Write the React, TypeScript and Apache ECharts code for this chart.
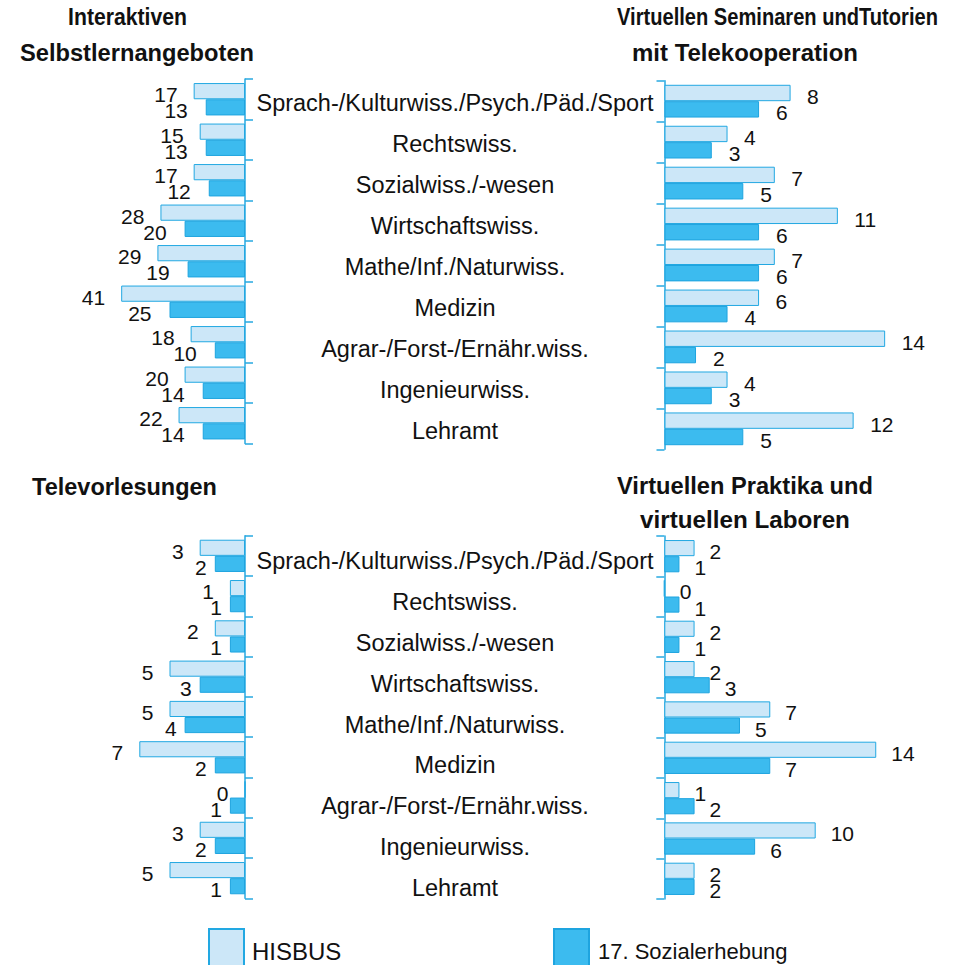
import React, { useEffect, useRef } from "react";
import * as echarts from "echarts";

const categories = [
  "Sprach-/Kulturwiss./Psych./Päd./Sport",
  "Rechtswiss.",
  "Sozialwiss./-wesen",
  "Wirtschaftswiss.",
  "Mathe/Inf./Naturwiss.",
  "Medizin",
  "Agrar-/Forst-/Ernähr.wiss.",
  "Ingenieurwiss.",
  "Lehramt",
];

const seriesNames = ["HISBUS", "17. Sozialerhebung"];

// Interaktiven Selbstlernangeboten
const selbstHisbus = [17, 15, 17, 28, 29, 41, 18, 20, 22];
const selbstSozial = [13, 13, 12, 20, 19, 25, 10, 14, 14];
// Virtuellen Seminaren und Tutorien mit Telekooperation
const seminarHisbus = [8, 4, 7, 11, 7, 6, 14, 4, 12];
const seminarSozial = [6, 3, 5, 6, 6, 4, 2, 3, 5];
// Televorlesungen
const teleHisbus = [3, 1, 2, 5, 5, 7, 0, 3, 5];
const teleSozial = [2, 1, 1, 3, 4, 2, 1, 2, 1];
// Virtuellen Praktika und virtuellen Laboren
const praktikaHisbus = [2, 0, 2, 2, 7, 14, 1, 10, 2];
const praktikaSozial = [1, 1, 1, 3, 5, 7, 2, 6, 2];

const panelTitles = [
  ["Interaktiven", "Selbstlernangeboten"],
  ["Virtuellen Seminaren undTutorien", "mit Telekooperation"],
  ["Televorlesungen"],
  ["Virtuellen Praktika und", "virtuellen Laboren"],
];

const FONT = '"Liberation Sans", Arial, Helvetica, sans-serif';
const LIGHT = "#cce7f8";
const LIGHT_BORDER = "#22a8e2";
const DARK = "#3cbbef";
const DARK_BORDER = "#1ea4df";
const AXIS = "#27a9e1";

// layout for title lines: [panel, line, centerX, centerY, targetWidth]
const titleLayout: [number, number, number, number, number][] = [
  [0, 0, 127.5, 17, 119],
  [0, 1, 137, 52, 234],
  [1, 0, 777.5, 17, 321],
  [1, 1, 745, 52, 226],
  [2, 0, 124.5, 487, 185],
  [3, 0, 745, 485, 256],
  [3, 1, 745, 520, 210],
];

function measure(text: string, font: string): number {
  const c = document.createElement("canvas");
  const ctx = c.getContext("2d");
  if (!ctx) return text.length * 12;
  ctx.font = font;
  return ctx.measureText(text).width;
}

export default function App() {
  const ref = useRef<HTMLDivElement>(null);

  useEffect(() => {
    if (!ref.current) return;
    const chart = echarts.init(ref.current, undefined, { renderer: "svg" });

    const titleFontSize = 24;
    const titleFont = `bold ${titleFontSize}px "Liberation Sans", Arial, sans-serif`;
    const graphics = titleLayout.map(([p, l, cx, cy, tw]) => {
      const text = panelTitles[p][l];
      const w = measure(text, titleFont);
      return {
        type: "text",
        x: cx,
        y: cy,
        scaleX: tw / w,
        style: {
          text,
          fill: "#111",
          font: titleFont,
          textAlign: "center",
          textVerticalAlign: "middle",
          align: "center",
          verticalAlign: "middle",
        },
      };
    });

    const panelGrids = [
      { left: 3.4, width: 241.6, top: 79, height: 364.5 },
      { left: 664.5, width: 283.7, top: 80.7, height: 368.6 },
      { left: 3.4, width: 241.6, top: 535.7, height: 362.6 },
      { left: 664.3, width: 272.5, top: 536, height: 363 },
    ];
    const labelGrids = [
      { left: 455, width: 1, top: 82, height: 369.9 },
      { left: 455, width: 1, top: 540.5, height: 368.1 },
    ];
    const maxes = [80, 18, 16, 18];
    const isLeft = [true, false, true, false];

    const xAxis: any[] = [];
    const yAxis: any[] = [];
    for (let i = 0; i < 4; i++) {
      xAxis.push({
        type: "value",
        gridIndex: i,
        min: 0,
        max: maxes[i],
        inverse: isLeft[i],
        show: false,
      });
      yAxis.push({
        type: "category",
        gridIndex: i,
        data: categories,
        inverse: true,
        position: isLeft[i] ? "right" : "left",
        axisLine: { show: true, lineStyle: { color: AXIS, width: 1.5 } },
        axisTick: { show: true, length: 8, lineStyle: { color: AXIS, width: 1.5 } },
        axisLabel: { show: false },
        splitLine: { show: false },
      });
    }
    for (let j = 0; j < 2; j++) {
      xAxis.push({ type: "value", gridIndex: 4 + j, min: 0, max: 1, show: false });
      yAxis.push({
        type: "category",
        gridIndex: 4 + j,
        data: categories,
        inverse: true,
        position: "left",
        axisLine: { show: false },
        axisTick: { show: false },
        splitLine: { show: false },
        axisLabel: {
          show: true,
          interval: 0,
          align: "center",
          margin: 0,
          fontSize: 23.5,
          color: "#111",
          fontFamily: FONT,
        },
      });
    }

    const panelData = [
      [selbstHisbus, selbstSozial],
      [seminarHisbus, seminarSozial],
      [teleHisbus, teleSozial],
      [praktikaHisbus, praktikaSozial],
    ];
    const labelDist = [
      [16, 18],
      [16.5, 17],
      [16, 8],
      [15, 15],
    ];

    const series: any[] = [];
    for (let i = 0; i < 4; i++) {
      for (let s = 0; s < 2; s++) {
        series.push({
          type: "bar",
          name: seriesNames[s],
          xAxisIndex: i,
          yAxisIndex: i,
          data: panelData[i][s],
          barGap: "0%",
          barCategoryGap: "20%",
          itemStyle: {
            color: s === 0 ? LIGHT : DARK,
            borderColor: s === 0 ? LIGHT_BORDER : DARK_BORDER,
            borderWidth: 1,
          },
          label: {
            show: true,
            position: isLeft[i] ? "left" : "right",
            distance: labelDist[i][s],
            offset: [0, 3.5],
            fontSize: 21,
            color: "#111",
            fontFamily: FONT,
          },
          emphasis: { disabled: true },
        });
      }
    }

    const legendCommon = {
      orient: "horizontal",
      icon: "rect",
      itemWidth: 35,
      itemHeight: 45,
      top: 928,
      padding: 0,
      selectedMode: false,
    };

    chart.setOption({
      animation: false,
      backgroundColor: "#ffffff",
      grid: [...panelGrids, ...labelGrids],
      xAxis,
      yAxis,
      series,
      legend: [
        {
          ...legendCommon,
          left: 208,
          data: [seriesNames[0]],
          textStyle: {
            fontSize: 24,
            color: "#111",
            fontFamily: FONT,
            padding: [0, 0, 0, 3],
          },
        },
        {
          ...legendCommon,
          left: 553,
          data: [seriesNames[1]],
          textStyle: {
            fontSize: 22,
            color: "#111",
            fontFamily: FONT,
            padding: [0, 0, 0, 4],
          },
        },
      ],
      graphic: graphics,
    });

    return () => {
      chart.dispose();
    };
  }, []);

  return (
    <div
      ref={ref}
      style={{
        position: "fixed",
        left: 0,
        top: 0,
        width: 957,
        height: 965,
        background: "#ffffff",
      }}
    />
  );
}
